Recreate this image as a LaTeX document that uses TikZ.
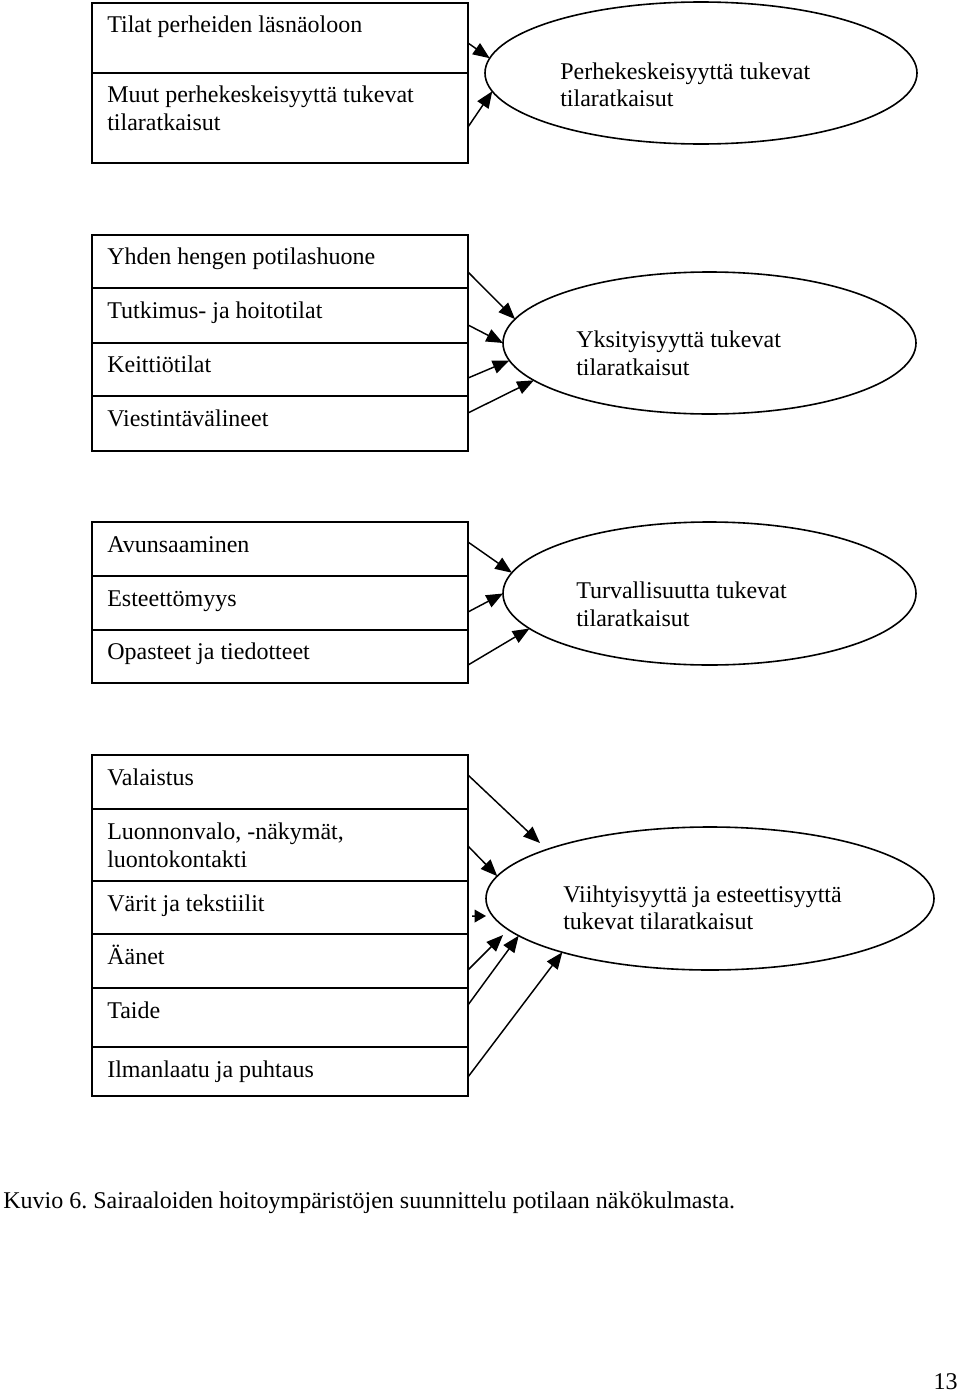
\documentclass[tikz,border=0pt]{standalone}
\usepackage{fontspec}
\setmainfont{Liberation Serif}
\usetikzlibrary{shapes.geometric,arrows.meta}
\begin{document}
\begin{tikzpicture}[x=0.75pt,y=-0.75pt,
  row/.style={draw, line width=1.2pt, rectangle, anchor=north west, minimum width=282pt, inner sep=0pt, outer sep=0pt},
  oval/.style={draw, line width=1.2pt, ellipse, inner sep=0pt, outer sep=0pt},
  txt/.style={anchor=base west, inner sep=0pt, font=\fontsize{18pt}{21pt}\selectfont},
  arr/.style={line width=1.1pt, -{Triangle[length=12.5pt,width=10pt]}},
  shortarr/.style={line width=1.1pt, -{Triangle[length=8.5pt,width=9.5pt]}}]
\useasboundingbox (0,0) rectangle (960,1392);
\fill[white] (0,0) rectangle (960,1392);

% ---- group 1
\node[row, minimum height=52.5pt] (r11) at (92,3) {};
\node[row, minimum height=67.5pt] (r12) at (92,73) {};
\node[txt] (t11) at (107,32) {Tilat perheiden läsnäoloon};
\node[txt] (t12a) at (107,102) {Muut perhekeskeisyyttä tukevat};
\node[txt] (t12b) at (107,130) {tilaratkaisut};
\node[oval, minimum width=324pt, minimum height=106.5pt] (e1) at (701,73) {};
\node[txt] (u1a) at (560,79) {Perhekeskeisyyttä tukevat};
\node[txt] (u1b) at (560,106) {tilaratkaisut};
\draw[arr] ([yshift=-3.75pt]r11.east) -- (e1.176.8);
\draw[arr] ([yshift=-6.75pt]r12.east) -- (e1.185.8);

% ---- group 2
\node[row, minimum height=39.75pt] (r21) at (92,235) {};
\node[row, minimum height=41.25pt] (r22) at (92,288) {};
\node[row, minimum height=39.75pt] (r23) at (92,343) {};
\node[row, minimum height=41.25pt] (r24) at (92,396) {};
\node[txt] (t21) at (107,264) {Yhden hengen potilashuone};
\node[txt] (t22) at (107,318) {Tutkimus- ja hoitotilat};
\node[txt] (t23) at (107,372) {Keittiötilat};
\node[txt] (t24) at (107,426) {Viestintävälineet};
\node[oval, minimum width=309.75pt, minimum height=106.5pt] (e2) at (709.5,343) {};
\node[txt] (u2a) at (576,347) {Yksityisyyttä tukevat};
\node[txt] (u2b) at (576,375) {tilaratkaisut};
\draw[arr] ([yshift=-7.9pt]r21.east) -- (e2.173.8);
\draw[arr] ([yshift=-7.1pt]r22.east) -- (e2.180);
\draw[arr] ([yshift=-6.4pt]r23.east) -- (e2.185.7);
\draw[arr] ([yshift=7.9pt]r24.east) -- (e2.192.2);

% ---- group 3
\node[row, minimum height=40.5pt] (r31) at (92,522) {};
\node[row, minimum height=40.5pt] (r32) at (92,576) {};
\node[row, minimum height=39.75pt] (r33) at (92,630) {};
\node[txt] (t31) at (107,552) {Avunsaaminen};
\node[txt] (t32) at (107,606) {Esteettömyys};
\node[txt] (t33) at (107,659) {Opasteet ja tiedotteet};
\node[oval, minimum width=309.75pt, minimum height=107.25pt] (e3) at (709.5,593.5) {};
\node[txt] (u3a) at (576,598) {Turvallisuutta tukevat};
\node[txt] (u3b) at (576,626) {tilaratkaisut};
\draw[arr] ([yshift=5.25pt]r31.east) -- (e3.174.4);
\draw[arr] ([yshift=-6.75pt]r32.east) -- (e3.180);
\draw[arr] ([yshift=-6.4pt]r33.east) -- (e3.191);

% ---- group 4
\node[row, minimum height=40.5pt] (r41) at (92,755) {};
\node[row, minimum height=54pt] (r42) at (92,809) {};
\node[row, minimum height=39.75pt] (r43) at (92,881) {};
\node[row, minimum height=40.5pt] (r44) at (92,934) {};
\node[row, minimum height=44.25pt] (r45) at (92,988) {};
\node[row, minimum height=36.75pt] (r46) at (92,1047) {};
\node[txt] (t41) at (107,785) {Valaistus};
\node[txt] (t42a) at (107,839) {Luonnonvalo, -näkymät,};
\node[txt] (t42b) at (107,867) {luontokontakti};
\node[txt] (t43) at (107,911) {Värit ja tekstiilit};
\node[txt] (t44) at (107,964) {Äänet};
\node[txt] (t45) at (107,1018) {Taide};
\node[txt] (t46) at (107,1077) {Ilmanlaatu ja puhtaus};
\node[oval, minimum width=336pt, minimum height=107.25pt] (e4) at (710,898.5) {};
\node[txt] (u4a) at (563,902) {Viihtyisyyttä ja esteettisyyttä};
\node[txt] (u4b) at (563,929) {tukevat tilaratkaisut};
\coordinate (c41) at (540,843);
\coordinate (c43) at (486,916);
\coordinate (c44) at (503,935);
\draw[arr] ([yshift=5.25pt]r41.east) -- (c41);
\draw[arr] ([yshift=-0.75pt]r42.east) -- (e4.174.6);
\draw[shortarr] ([xshift=3pt,yshift=-6.4pt]r43.east) -- (c43);
\draw[arr] ([yshift=-6.75pt]r44.east) -- (c44);
\draw[arr] ([yshift=9.4pt]r45.east) -- (e4.191.3);
\draw[arr] ([yshift=-4.1pt]r46.east) -- (e4.200.1);

% ---- caption and page number
\node[txt] (cap) at (3,1208) {Kuvio 6.\ Sairaaloiden hoitoympäristöjen suunnittelu potilaan näkökulmasta.};
\node[txt, anchor=base east] (pg) at (958,1389) {13};
\end{tikzpicture}
\end{document}
